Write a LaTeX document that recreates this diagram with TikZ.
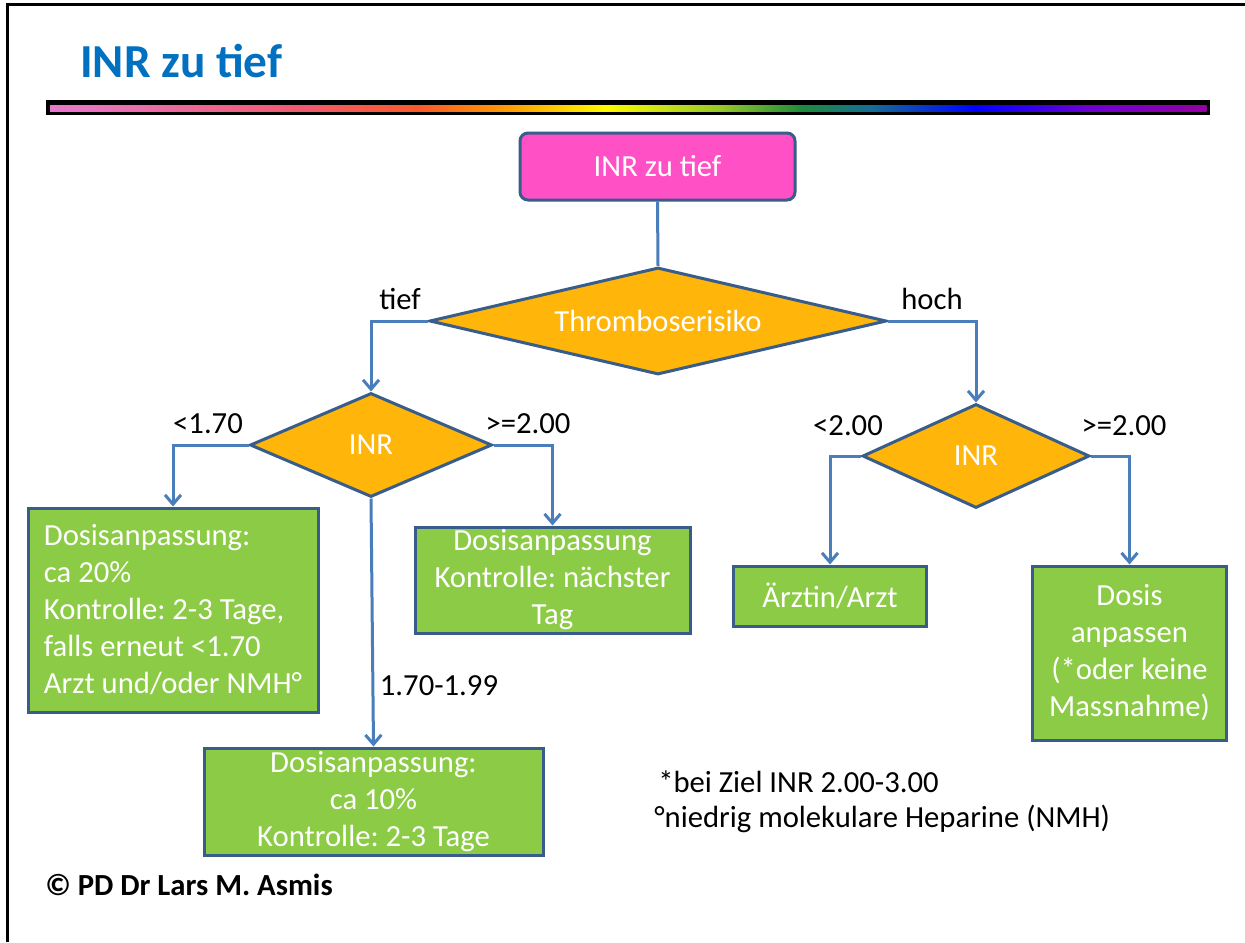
\documentclass[tikz,border=0pt]{standalone}
\usepackage{fontspec}
\setmainfont{Carlito}
\usetikzlibrary{shapes.geometric,arrows.meta}
\definecolor{pinkbox}{HTML}{FF50C5}
\definecolor{orangebox}{HTML}{FFB50A}
\definecolor{greenbox}{HTML}{8CCB45}
\definecolor{bordercol}{HTML}{385D8A}
\definecolor{linecol}{HTML}{4A7EBB}
\definecolor{titleblue}{HTML}{0070C0}
\definecolor{rbA}{RGB}{232,120,205}
\definecolor{rbB}{RGB}{240,90,110}
\definecolor{rbC}{RGB}{250,90,40}
\definecolor{rbD}{RGB}{255,160,0}
\definecolor{rbE}{RGB}{255,250,0}
\definecolor{rbF}{RGB}{150,200,40}
\definecolor{rbG}{RGB}{30,140,60}
\definecolor{rbH}{RGB}{20,110,150}
\definecolor{rbI}{RGB}{0,0,255}
\definecolor{rbJ}{RGB}{110,0,210}
\definecolor{rbK}{RGB}{150,0,160}
\frenchspacing
\begin{document}
\begin{tikzpicture}[x=0.75pt,y=-0.75pt,
  txt/.style={font=\fontsize{23}{27.75}\selectfont},
  box/.style={rectangle, draw=bordercol, line width=2.25pt, fill=greenbox, text=white, txt, align=center, inner sep=0pt},
  topbox/.style={box, fill=pinkbox, rounded corners=6pt},
  dec/.style={diamond, draw=bordercol, line width=2.25pt, fill=orangebox, text=white, txt, inner sep=0pt},
  conn/.style={draw=linecol, line width=2.25pt},
  arr/.style={conn, -{Straight Barb[length=7pt,width=12pt]}},
  lbl/.style={txt, text=black, inner sep=0pt, anchor=base}
]
\useasboundingbox (0,0) rectangle (1245,942);
\fill[white] (0,0) rectangle (1245,942);
% frame
\draw[line width=2.25pt] (7,942) -- (7,5) -- (1245,5);
% title
\node[anchor=base west, inner sep=0pt, text=titleblue, font=\fontsize{35.5}{40}\selectfont\bfseries] (title) at (80,78) {INR zu tief};
% rainbow bar
\fill[black] (46,100) rectangle (1210,115);
\foreach \a/\b/\ca/\cb in {0/0.22/rbA/rbB, 0.22/0.32/rbB/rbC, 0.32/0.40/rbC/rbD, 0.40/0.48/rbD/rbE, 0.48/0.58/rbE/rbF, 0.58/0.65/rbF/rbG, 0.65/0.71/rbG/rbH, 0.71/0.80/rbH/rbI, 0.80/0.90/rbI/rbJ, 0.90/1.0/rbJ/rbK}
  \shade[left color=\ca, right color=\cb] ({50+1156*\a},105) rectangle ({50+1156*\b+0.5},111);
% nodes
\node[topbox, minimum width=206.25pt, minimum height=50.25pt] (top) at (657.5,166.5) {INR zu tief};
\node[dec, aspect=4.27, minimum width=342.75pt, minimum height=80.25pt] (T) at (658,321) {Thromboserisiko};
\node[dec, aspect=2.33, minimum width=181.5pt, minimum height=78pt] (L) at (371,445) {INR};
\node[dec, aspect=2.2, minimum width=170.25pt, minimum height=78pt] (R) at (976,456) {INR};
\node[box, align=left, minimum width=217.5pt, minimum height=153pt] (A) at (173,610)
  {Dosisanpassung:\\ca 20\%\\Kontrolle: 2-3 Tage,\\falls erneut <1.70\\Arzt und/oder NMH°};
\node[box, minimum width=206.25pt, minimum height=79.5pt] (B) at (552.5,580)
  {Dosisanpassung\\Kontrolle: nächster\\Tag};
\node[box, minimum width=254.25pt, minimum height=80.25pt] (C) at (373.5,801.5)
  {Dosisanpassung:\\ca 10\%\\Kontrolle: 2-3 Tage};
\node[box, minimum width=144.75pt, minimum height=45pt] (D) at (830,596) {Ärztin/Arzt};
\node[box, minimum width=145.5pt, minimum height=130.5pt] (E) at (1129.5,653)
  {Dosis\\anpassen\\(*oder keine\\Massnahme)};
% connectors
\draw[conn] (top.south) -- (T.north);
\draw[arr] (T.west) -| (L.north);
\draw[arr] (T.east) -| (R.north);
\draw[arr] (L.west) -| (A.north);
\draw[arr] (L.east) -| (B.north);
\draw[arr] (L.south) -- (C.north);
\draw[arr] (R.west) -| (D.north);
\draw[arr] (R.east) -| (E.north);
% labels
\node[lbl] (lt) at (400,309) {tief};
\node[lbl] (lh) at (932,309) {hoch};
\node[lbl] (l1) at (208,433) {<1.70};
\node[lbl] (l2) at (528,433) {>=2.00};
\node[lbl] (l3) at (439,695) {1.70-1.99};
\node[lbl] (l4) at (848,435) {<2.00};
\node[lbl] (l5) at (1124,435) {>=2.00};
% footnotes
\node[txt, anchor=base west, inner sep=0pt] (fn1) at (658,792) {*bei Ziel INR 2.00-3.00};
\node[txt, anchor=base west, inner sep=0pt] (fn2) at (654,827) {°niedrig molekulare Heparine (NMH)};
\node[anchor=base west, inner sep=0pt, font=\fontsize{23}{26}\selectfont\bfseries] (copy) at (45,895) {© PD Dr Lars M. Asmis};
\end{tikzpicture}
\end{document}
